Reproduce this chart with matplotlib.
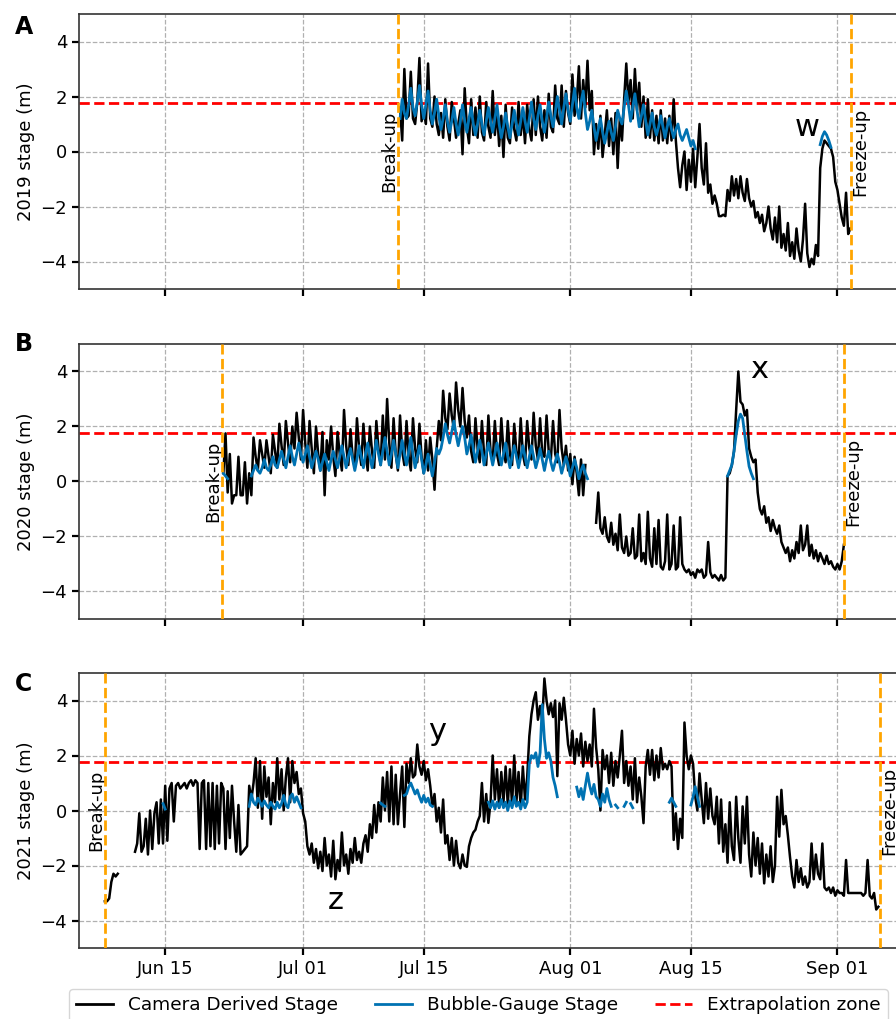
import numpy as np
import pandas as pd
import matplotlib
matplotlib.use('Agg')
import matplotlib.pyplot as plt
import matplotlib.dates as mdates
from matplotlib.lines import Line2D

nan = np.nan

# 6-hourly stage readings (m); one row per day, 00/06/12/18 h
cam_2019_start = '2019-07-12 06:00'
cam_2019 = [
    1.6, 0.4, 3.0,
    1.2, 1.3, 2.9, 1.2,
    1.0, 1.8, 3.4, 1.1,
    1.5, 1.0, 3.2, 1.2,
    0.9, 2.0, 1.0, 0.6,
    1.4, 0.5, 1.9, 0.9,
    0.4, 1.8, 1.2, 0.5,
    1.0, 1.5, -0.1, 2.3,
    0.9, 0.3, 1.9, 0.6,
    1.6, 0.5, 2.0, 0.7,
    0.4, 1.8, 0.9, 0.5,
    2.2, 0.6, 1.5, 0.2,
    1.3, -0.2, 1.7, 0.5,
    0.3, 1.6, 0.8, 0.4,
    1.8, 0.6, 1.4, 0.3,
    1.7, 0.8, 0.4, 1.9,
    0.6, 2.0, 0.9, 0.4,
    1.5, 0.5, 2.1, 0.9,
    0.7, 2.4, 1.2, 1.0,
    2.4, 0.9, 2.2, 1.4,
    1.0, 2.8, 1.3, 1.8,
    3.1, 1.2, 2.6, 1.6,
    3.3, 1.5, 2.2, -0.1,
    1.0, 0.1, 1.3, -0.2,
    0.6, 1.5, 0.2, 1.2,
    -0.1, 1.4, -0.6, 1.2,
    0.4, 1.9, 3.2, 1.8,
    2.6, 1.2, 3.0, 1.5,
    2.5, 0.9, 2.0, 0.5,
    1.9, 0.5, 1.5, 0.4,
    1.3, 0.3, 1.5, 0.4,
    1.2, 0.3, 1.3, 0.4,
    1.9, 0.4, -0.6, -1.3,
    -0.5, 0.0, -1.4, -0.3,
    -1.1, 0.1, -1.3, -0.2,
    1.0, -0.6, -1.2, 0.3,
    -1.5, -1.2, -1.9, -1.6,
    -1.9, -2.35, -2.35, -2.3,
    -2.35, -1.4, -1.8, -0.9,
    -1.6, -1.0, -1.7, -0.9,
    -1.5, -1.8, -1.0, -1.7,
    -2.0, -1.8, -2.4, -2.2,
    -2.6, -2.3, -2.9, -2.6,
    -2.0, -2.8, -3.2, -2.4,
    -3.3, -2.0, -3.5, -3.0,
    -3.6, -2.6, -3.8, -3.3,
    -3.9, -2.8, -3.6, -4.0,
    -3.2, -1.9, -3.7, -4.2,
    -3.9, -4.1, -3.4, -3.8,
    -0.6, 0.1, 0.4, 0.3,
    0.2, 0.1, -0.2, -1.1,
    -1.4, -1.9, -2.4, -2.7,
    -1.5, -3.0, -2.8,
]

bub_2019_start = '2019-07-12 06:00'
bub_2019 = [
    1.2, 1.9, 1.4,
    1.2, 1.7, 2.3, 1.6,
    1.3, 1.8, 2.4, 1.7,
    1.2, 1.7, 2.2, 1.5,
    1.0, 1.4, 1.9, 1.3,
    0.8, 1.2, 1.7, 1.1,
    0.7, 1.1, 1.6, 1.0,
    0.6, 1.1, 1.7, 1.1,
    0.7, 1.2, 1.6, 1.0,
    0.6, 1.0, 1.5, 1.0,
    0.6, 1.1, 1.6, 1.1,
    0.7, 1.2, 1.7, 1.0,
    0.5, 0.9, 1.4, 0.9,
    0.5, 1.0, 1.5, 1.0,
    0.6, 1.1, 1.6, 1.1,
    0.7, 1.2, 1.8, 1.2,
    0.8, 1.3, 1.7, 1.1,
    0.7, 1.2, 1.8, 1.3,
    0.9, 1.4, 2.0, 1.5,
    1.0, 1.6, 2.1, 1.5,
    1.1, 1.7, 2.3, 1.6,
    1.2, 1.8, 2.2, 1.4,
    0.8, 1.1, 1.5, 0.9,
    0.4, 0.8, 1.2, 0.7,
    0.3, 0.7, 1.1, 0.7,
    0.4, 0.9, 1.5, 1.2,
    1.0, 1.6, 2.2, 1.7,
    1.1, 1.6, 2.1, 1.5,
    0.9, 1.3, 1.7, 1.1,
    0.6, 1.0, 1.4, 0.9,
    0.6, 0.9, 1.3, 0.9,
    0.5, 0.9, 1.2, 0.8,
    0.5, 0.8, 1.0, 0.6,
    0.4, 0.6, 0.8, 0.5,
    0.2, 0.4, 0.1,
]

bub_2019_w_start = '2019-08-30 00:00'
bub_2019_w = [0.25, 0.55, 0.72, 0.6, 0.4, 0.15]

cam_2020_start = '2020-06-21 18:00'
cam_2020 = [
    0.3,
    1.75, -0.4, 1.0, -0.8,
    -0.5, -0.5, 0.9, -0.5,
    -0.5, 0.7, -0.8, 0.3,
    -0.5, 1.6, 0.9, 0.4,
    1.5, 1.0, 0.5, 1.5,
    0.9, 0.3, 1.7, 1.1,
    0.5, 2.1, 1.3, 0.6,
    2.2, 1.4, 0.7, 2.0,
    1.2, 2.5, 1.6, 0.8,
    2.6, 1.4, 0.5, 2.2,
    1.2, 0.3, 2.0, 1.0,
    0.4, 1.8, -0.5, 1.5,
    0.8, 2.0, 0.9, 0.2,
    1.8, 1.0, 0.4, 2.6,
    1.3, 0.6, 1.9, 0.9,
    0.5, 2.3, 1.2, 0.6,
    2.1, 1.0, 0.4, 2.0,
    1.1, 0.5, 2.2, 1.2,
    0.6, 2.4, 0.8, 3.0,
    1.4, 0.5, 2.3, 1.0,
    0.4, 2.4, 1.1, 0.6,
    2.2, 0.9, 0.4, 2.3,
    1.2, 0.7, 2.1, 0.9,
    0.3, 1.5, 0.4, 1.6,
    0.8, -0.3, 1.2, 2.2,
    1.5, 3.3, 2.3, 1.9,
    3.2, 2.4, 1.9, 3.6,
    2.6, 2.0, 3.4, 2.2,
    1.6, 2.4, 1.1, 0.7,
    2.3, 1.2, 0.7, 2.2,
    1.0, 0.6, 2.4, 1.1,
    0.7, 2.2, 1.0, 0.6,
    2.3, 1.1, 0.7, 2.2,
    1.0, 0.6, 2.1, 1.1,
    0.7, 2.3, 1.0, 0.6,
    2.2, 1.2, 0.8, 2.5,
    1.3, 0.8, 2.3, 1.0,
    0.9, 2.4, 1.1, 0.8,
    2.2, 1.0, 0.7, 2.6,
    1.2, 0.6, 1.3, 0.4,
    1.0, -0.1, 0.9, 0.3,
    -0.5, 0.8, -0.5, 0.6,
    nan, nan, nan, nan,
    -1.5, -0.4, -1.7, -1.9,
    -1.3, -2.0, -2.2, -1.5,
    -2.3, -1.9, -2.5, -1.2,
    -2.4, -2.6, -2.0, -2.7,
    -2.6, -1.7, -2.8, -2.7,
    -1.2, -2.9, -2.6, -3.0,
    -1.1, -2.8, -3.1, -1.7,
    -3.0, -1.4, -3.1, -3.2,
    -2.9, -1.2, -3.2, -3.0,
    -1.6, -3.2, -3.1, -1.3,
    -3.0, -3.2, -3.3, -3.2,
    -3.4, -3.3, -3.5, -3.2,
    -3.3, -3.2, -3.5, -3.4,
    -2.2, -3.3, -3.5, -3.4,
    -3.5, -3.6, -3.4, -3.6,
    -3.5, 0.2, 0.3, 0.6,
    1.1, 2.6, 4.0, 2.9,
    2.8, 2.4, 2.6, 1.2,
    0.9, 0.7, 0.8, -0.4,
    -1.0, -1.2, -0.9, -1.5,
    -1.3, -1.8, -1.4, -1.7,
    -1.9, -1.6, -2.2, -2.4,
    -2.6, -2.4, -2.9, -2.5,
    -2.8, -2.2, -2.6, -1.6,
    -2.5, -2.3, -1.6, -2.7,
    -2.3, -2.8, -2.5, -2.9,
    -2.6, -2.8, -3.0, -2.7,
    -3.0, -2.9, -3.1, -3.2,
    -3.0, -3.2, -2.9, -2.3,
]

bub_2020_start = '2020-06-21 18:00'
bub_2020 = [
    0.3,
    0.2, 0.1, nan, nan,
    nan, nan, nan, nan,
    nan, nan, nan, nan,
    0.2, 0.4, 0.6, 0.4,
    0.3, 0.5, 0.8, 0.5,
    0.4, 0.6, 0.9, 0.6,
    0.5, 0.8, 1.1, 0.8,
    0.5, 0.9, 1.3, 0.9,
    0.6, 1.0, 1.4, 1.0,
    0.7, 1.0, 1.3, 0.9,
    0.5, 0.8, 1.1, 0.8,
    0.4, 0.7, 1.0, 0.7,
    0.4, 0.8, 1.1, 0.8,
    0.5, 0.9, 1.3, 0.9,
    0.5, 0.9, 1.2, 0.8,
    0.4, 0.8, 1.3, 0.9,
    0.5, 1.0, 1.4, 0.9,
    0.5, 1.0, 1.5, 1.0,
    0.6, 1.1, 1.6, 1.1,
    0.6, 1.0, 1.5, 1.0,
    0.5, 1.0, 1.5, 1.0,
    0.6, 1.1, 1.6, 1.0,
    0.5, 0.9, 1.3, 0.8,
    0.3, 0.6, 1.0, 0.6,
    0.2, 0.7, 1.2, 1.0,
    1.2, 1.6, 2.1, 1.7,
    1.4, 1.8, 2.2, 1.7,
    1.3, 1.7, 2.0, 1.6,
    1.0, 1.3, 1.7, 1.2,
    0.7, 1.1, 1.5, 1.1,
    0.6, 1.0, 1.4, 1.0,
    0.6, 1.0, 1.4, 1.0,
    0.6, 1.0, 1.4, 0.9,
    0.5, 0.9, 1.3, 0.9,
    0.5, 0.9, 1.3, 0.9,
    0.5, 0.9, 1.3, 0.9,
    0.5, 0.8, 1.2, 0.8,
    0.4, 0.8, 1.1, 0.7,
    0.4, 0.7, 1.0, 0.7,
    0.3, 0.6, 0.9, 0.6,
    0.2, 0.5, 0.8, 0.5,
    0.1, 0.4, 0.6, 0.3,
    0.1,
]

bub_2020_x_start = '2020-08-19 06:00'
bub_2020_x = [0.2, 0.4, 0.6, 1.1, 1.7, 2.2, 2.45, 2.3, 1.7, 1.1, 0.55, 0.3, 0.1]

cam_2021_start = '2021-06-08 00:00'
cam_2021 = [
    -3.3, -3.3, -3.2, -2.6,
    -2.3, -2.4, -2.3, nan,
    nan, nan, nan, nan,
    nan, nan, -1.5, -1.2,
    -0.1, -1.5, -1.3, -0.3,
    -1.6, 0.0, -1.4, -0.1,
    0.3, -1.2, 0.4, -1.2,
    0.9, -1.1, 0.8, 1.0,
    -0.4, 0.9, 1.0, 0.8,
    0.9, 1.0, 0.8, 1.0,
    1.1, 0.9, 1.1, 1.0,
    -1.4, 1.0, 1.1, -1.4,
    1.0, -1.3, 1.0, -1.4,
    0.9, -1.2, 1.0, 0.8,
    -1.4, 0.7, -1.0, 0.9,
    -0.4, -1.5, 0.2, -1.6,
    -1.5, -1.4, -1.3, 0.9,
    0.4, 1.0, 1.9, 0.1,
    1.8, -0.3, 1.6, 0.5,
    1.2, -0.5, 1.0, 0.3,
    1.9, 0.4, 1.5, 0.0,
    1.2, 1.9, 0.3, 1.8,
    1.0, 1.4, 0.6, 0.8,
    -0.1, -0.4, -1.3, -1.6,
    -1.2, -1.9, -1.4, -2.1,
    -1.5, -2.2, -1.0, -2.0,
    -1.6, -2.4, -1.1, -2.5,
    -1.8, -2.2, -0.8, -2.0,
    -1.6, -2.3, -1.4, -1.9,
    -1.0, -1.8, -1.5, -1.9,
    -1.2, -0.9, -1.5, -0.5,
    -1.0, 0.2, -0.8, 0.3,
    -0.4, 1.2, 0.0, 1.4,
    -0.4, 1.6, -0.5, 1.3,
    -0.5, 0.6, 1.6, -0.6,
    1.7, 1.0, 1.9, 1.2,
    1.3, 2.4, 1.6, 1.3,
    1.8, 1.1, 1.5, 0.9,
    0.15, 0.6, -0.4, 0.1,
    -0.8, 0.4, -1.2, -0.9,
    -1.8, -1.0, -2.0, -1.1,
    -1.9, -2.1, -1.6, -2.0,
    -2.05, -1.3, -1.0, -0.8,
    -0.7, -0.4, -0.2, 1.0,
    -0.4, 0.6, -0.45, 0.3,
    2.0, 0.4, 1.5, 0.1,
    1.4, 0.3, 1.6, 0.2,
    1.5, 0.2, 2.0, 0.3,
    1.4, 0.1, 1.6, 0.4,
    1.2, 2.7, 3.5, 4.0,
    4.3, 3.3, 3.8, 3.3,
    4.8, 4.0, 3.5, 3.9,
    3.4, 4.0, 1.25, 3.9,
    3.3, 4.1, 3.3, 2.4,
    2.0, 2.9, 1.7, 2.6,
    2.0, 2.8, 1.6, 2.5,
    1.8, 2.4, 1.6, 3.7,
    2.3, 1.5, 0.0, 2.2,
    1.5, 2.0, 1.0, 2.1,
    0.9, 1.8, 1.2, 2.0,
    2.9, 1.0, 1.8, 0.9,
    1.6, 0.4, 1.9, 0.3,
    1.2, 0.5, -0.46, 1.6,
    2.2, 1.3, 2.2, 1.1,
    2.0, 1.2, 2.27, 1.5,
    1.7, 1.5, 1.8, 1.6,
    -1.07, -0.1, -1.4, -0.3,
    -1.0, 3.2, 2.0, 1.5,
    2.0, 1.7, 0.5, 0.0,
    1.35, 0.4, -0.46, 1.0,
    -0.3, 0.8, -0.2, -0.5,
    0.5, -1.2, 0.4, -1.5,
    -0.5, -1.9, 0.3, -1.3,
    -1.8, 0.5, -1.0, -1.9,
    0.15, -1.2, 0.5, -1.6,
    -2.4, -0.8, -2.0, -1.0,
    -2.3, -1.2, -2.65, -1.6,
    -2.4, -1.3, -2.6, -2.0,
    0.5, -0.95, 0.75, -0.5,
    -0.2, -0.9, -1.7, -2.4,
    -2.8, -1.8, -2.6, -2.1,
    -2.7, -2.4, -2.8, -2.6,
    -1.2, -2.5, -1.6, -2.3,
    -2.5, -1.2, -2.8, -2.9,
    -2.8, -3.0, -2.8, -3.1,
    -2.9, -3.0, -3.0, -3.1,
    -1.8, -3.0, -3.0, -3.0,
    -3.0, -3.0, -3.0, -3.0,
    -3.1, -3.0, -1.8, -3.1,
    -3.2, -3.0, -3.6, -3.5,
]

bub_2021_start = '2021-06-14 18:00'
bub_2021 = [
    0.25,
    0.05, nan, nan, nan,
    nan, nan, nan, nan,
    nan, nan, nan, nan,
    nan, nan, nan, nan,
    nan, nan, nan, nan,
    nan, nan, nan, nan,
    nan, nan, nan, nan,
    nan, nan, nan, nan,
    nan, nan, nan, nan,
    nan, nan, nan, 0.15,
    0.6, 0.3, 0.2, 0.45,
    0.3, 0.15, 0.35, 0.2,
    0.1, 0.3, 0.15, 0.05,
    0.3, 0.1, 0.25, 0.55,
    0.2, 0.1, 0.5, 0.6,
    0.3, 0.5, 0.3, 0.1,
    nan, nan, nan, nan,
    nan, nan, nan, nan,
    nan, nan, nan, nan,
    nan, nan, nan, nan,
    nan, nan, nan, nan,
    nan, nan, nan, nan,
    nan, nan, nan, nan,
    nan, nan, nan, nan,
    nan, nan, nan, nan,
    0.27, 0.2, 0.15, nan,
    nan, nan, nan, nan,
    nan, nan, nan, 0.55,
    0.6, 0.85, 1.0, 0.8,
    0.6, 0.75, 0.5, 0.3,
    0.55, 0.3, 0.45, 0.2,
    0.15, nan, nan, nan,
    nan, nan, nan, nan,
    nan, nan, nan, nan,
    nan, nan, nan, nan,
    nan, nan, nan, nan,
    nan, nan, nan, nan,
    nan, nan, 0.3, 0.1,
    0.35, 0.05, 0.3, 0.1,
    0.4, 0.1, 0.3, 0.0,
    0.35, 0.1, 0.5, 0.15,
    0.3, 0.05, 0.4, 0.1,
    0.3, 1.7, 2.0, 1.9,
    2.1, 1.6, 2.1, 3.85,
    2.6, 1.9, 2.1, 1.8,
    1.2, 0.9, 0.5, nan,
    nan, nan, nan, nan,
    nan, nan, nan, 0.85,
    0.5, 0.8, 0.4, 0.9,
    1.36, 0.9, 0.6, 0.95,
    0.5, 0.4, 0.15, 0.6,
    0.3, 0.8, 0.4, 0.15,
    nan, 0.2, 0.1, nan,
    nan, 0.15, 0.3, nan,
    0.25, 0.1, nan, nan,
    nan, nan, nan, nan,
    nan, nan, nan, nan,
    nan, nan, nan, nan,
    nan, nan, 0.3, 0.45,
    0.3, 0.15, nan, nan,
    nan, nan, nan, nan,
    0.2, 0.5, 0.87, 0.5,
    0.15,
]

years = [2019, 2020, 2021]
break_up = ['2019-07-12 01:00', '2020-06-21 14:00', '2021-06-08 01:00']
freeze_up = ['2019-09-02 14:00', '2020-09-01 19:00', '2021-09-05 22:00']
extrapolation_level = 1.75
panel_letters = ['A', 'B', 'C']
event_labels = [
    [('w', '2019-08-28 12:00', 0.87)],
    [('x', '2020-08-22 23:00', 4.06)],
    [('y', '2021-07-16 12:00', 2.87), ('z', '2021-07-04 20:00', -3.26)],
]

camera = [(cam_2019_start, cam_2019), (cam_2020_start, cam_2020), (cam_2021_start, cam_2021)]
bubble = [
    [(bub_2019_start, bub_2019), (bub_2019_w_start, bub_2019_w)],
    [(bub_2020_start, bub_2020), (bub_2020_x_start, bub_2020_x)],
    [(bub_2021_start, bub_2021)],
]


def to_series(start, values):
    idx = pd.date_range(start, periods=len(values), freq='6h')
    return pd.Series(values, index=idx, dtype=float)


def main():
    plt.rcParams['font.family'] = 'DejaVu Sans'
    fig = plt.figure(figsize=(8.96, 10.19), dpi=100)

    W, H = 896, 1019
    tops = [14, 344, 673]
    ax_h = 275
    left_px = 79
    width_px = 836

    cam_color = 'black'
    bub_color = '#0072B2'
    letter_pos = [(24, 27), (24, 344), (24, 684)]

    for i, yr in enumerate(years):
        top = tops[i]
        ax = fig.add_axes([left_px / W, 1 - (top + ax_h) / H, width_px / W, ax_h / H])

        ax.grid(True, linestyle='--', linewidth=0.9, color='#b0b0b0', zorder=0)
        ax.axhline(extrapolation_level, color='red', linestyle='--', linewidth=2, zorder=2)

        s = to_series(*camera[i])
        ax.plot(s.index, s.values, color=cam_color, linewidth=1.8, zorder=3)
        for start, vals in bubble[i]:
            b = to_series(start, vals)
            ax.plot(b.index, b.values, color=bub_color, linewidth=2.0, zorder=4)

        bu = pd.Timestamp(break_up[i])
        fu = pd.Timestamp(freeze_up[i])
        ax.axvline(bu, color='orange', linestyle='--', linewidth=2, zorder=5)
        ax.axvline(fu, color='orange', linestyle='--', linewidth=2, zorder=5)
        ax.text(bu, 0, 'Break-up', rotation=90, ha='right', va='center', fontsize=13)
        ax.text(fu, 0, 'Freeze-up', rotation=90, ha='left', va='center', fontsize=13)

        for txt, when, val in event_labels[i]:
            ax.text(pd.Timestamp(when), val, txt, ha='center', va='center', fontsize=22)

        ax.set_ylim(-5, 5)
        ax.set_yticks([-4, -2, 0, 2, 4])
        ax.set_xlim(pd.Timestamp(f'{yr}-06-05'), pd.Timestamp(f'{yr}-09-10'))
        ticks = [pd.Timestamp(f'{yr}-{md}') for md in ['06-15', '07-01', '07-15', '08-01', '08-15', '09-01']]
        ax.set_xticks(ticks)
        ax.xaxis.set_major_formatter(mdates.DateFormatter('%b %d'))
        if i < 2:
            ax.tick_params(axis='x', labelbottom=False)
        ax.tick_params(axis='both', labelsize=13, width=1.6, length=5)
        ax.set_ylabel(f'{yr} stage (m)', fontsize=13)
        for sp in ax.spines.values():
            sp.set_linewidth(1.2)
            sp.set_color('#333333')

        lx, ly = letter_pos[i]
        fig.text(lx / W, 1 - ly / H, panel_letters[i], fontsize=17, fontweight='bold',
                 ha='center', va='center')

    legend_elements = [
        Line2D([0], [0], color=cam_color, linewidth=2, label='Camera Derived Stage'),
        Line2D([0], [0], color=bub_color, linewidth=2, label='Bubble-Gauge Stage'),
        Line2D([0], [0], color='red', linewidth=2, linestyle='--', label='Extrapolation zone'),
    ]
    fig.legend(handles=legend_elements, loc='upper left', bbox_to_anchor=(69 / W, 1 - 989 / H),
               borderaxespad=0, ncol=3, fontsize=13.3, frameon=True, columnspacing=2.0,
               handlelength=2.0, handletextpad=0.8)

    fig.savefig('out.png', dpi=100)


if __name__ == '__main__':
    main()
